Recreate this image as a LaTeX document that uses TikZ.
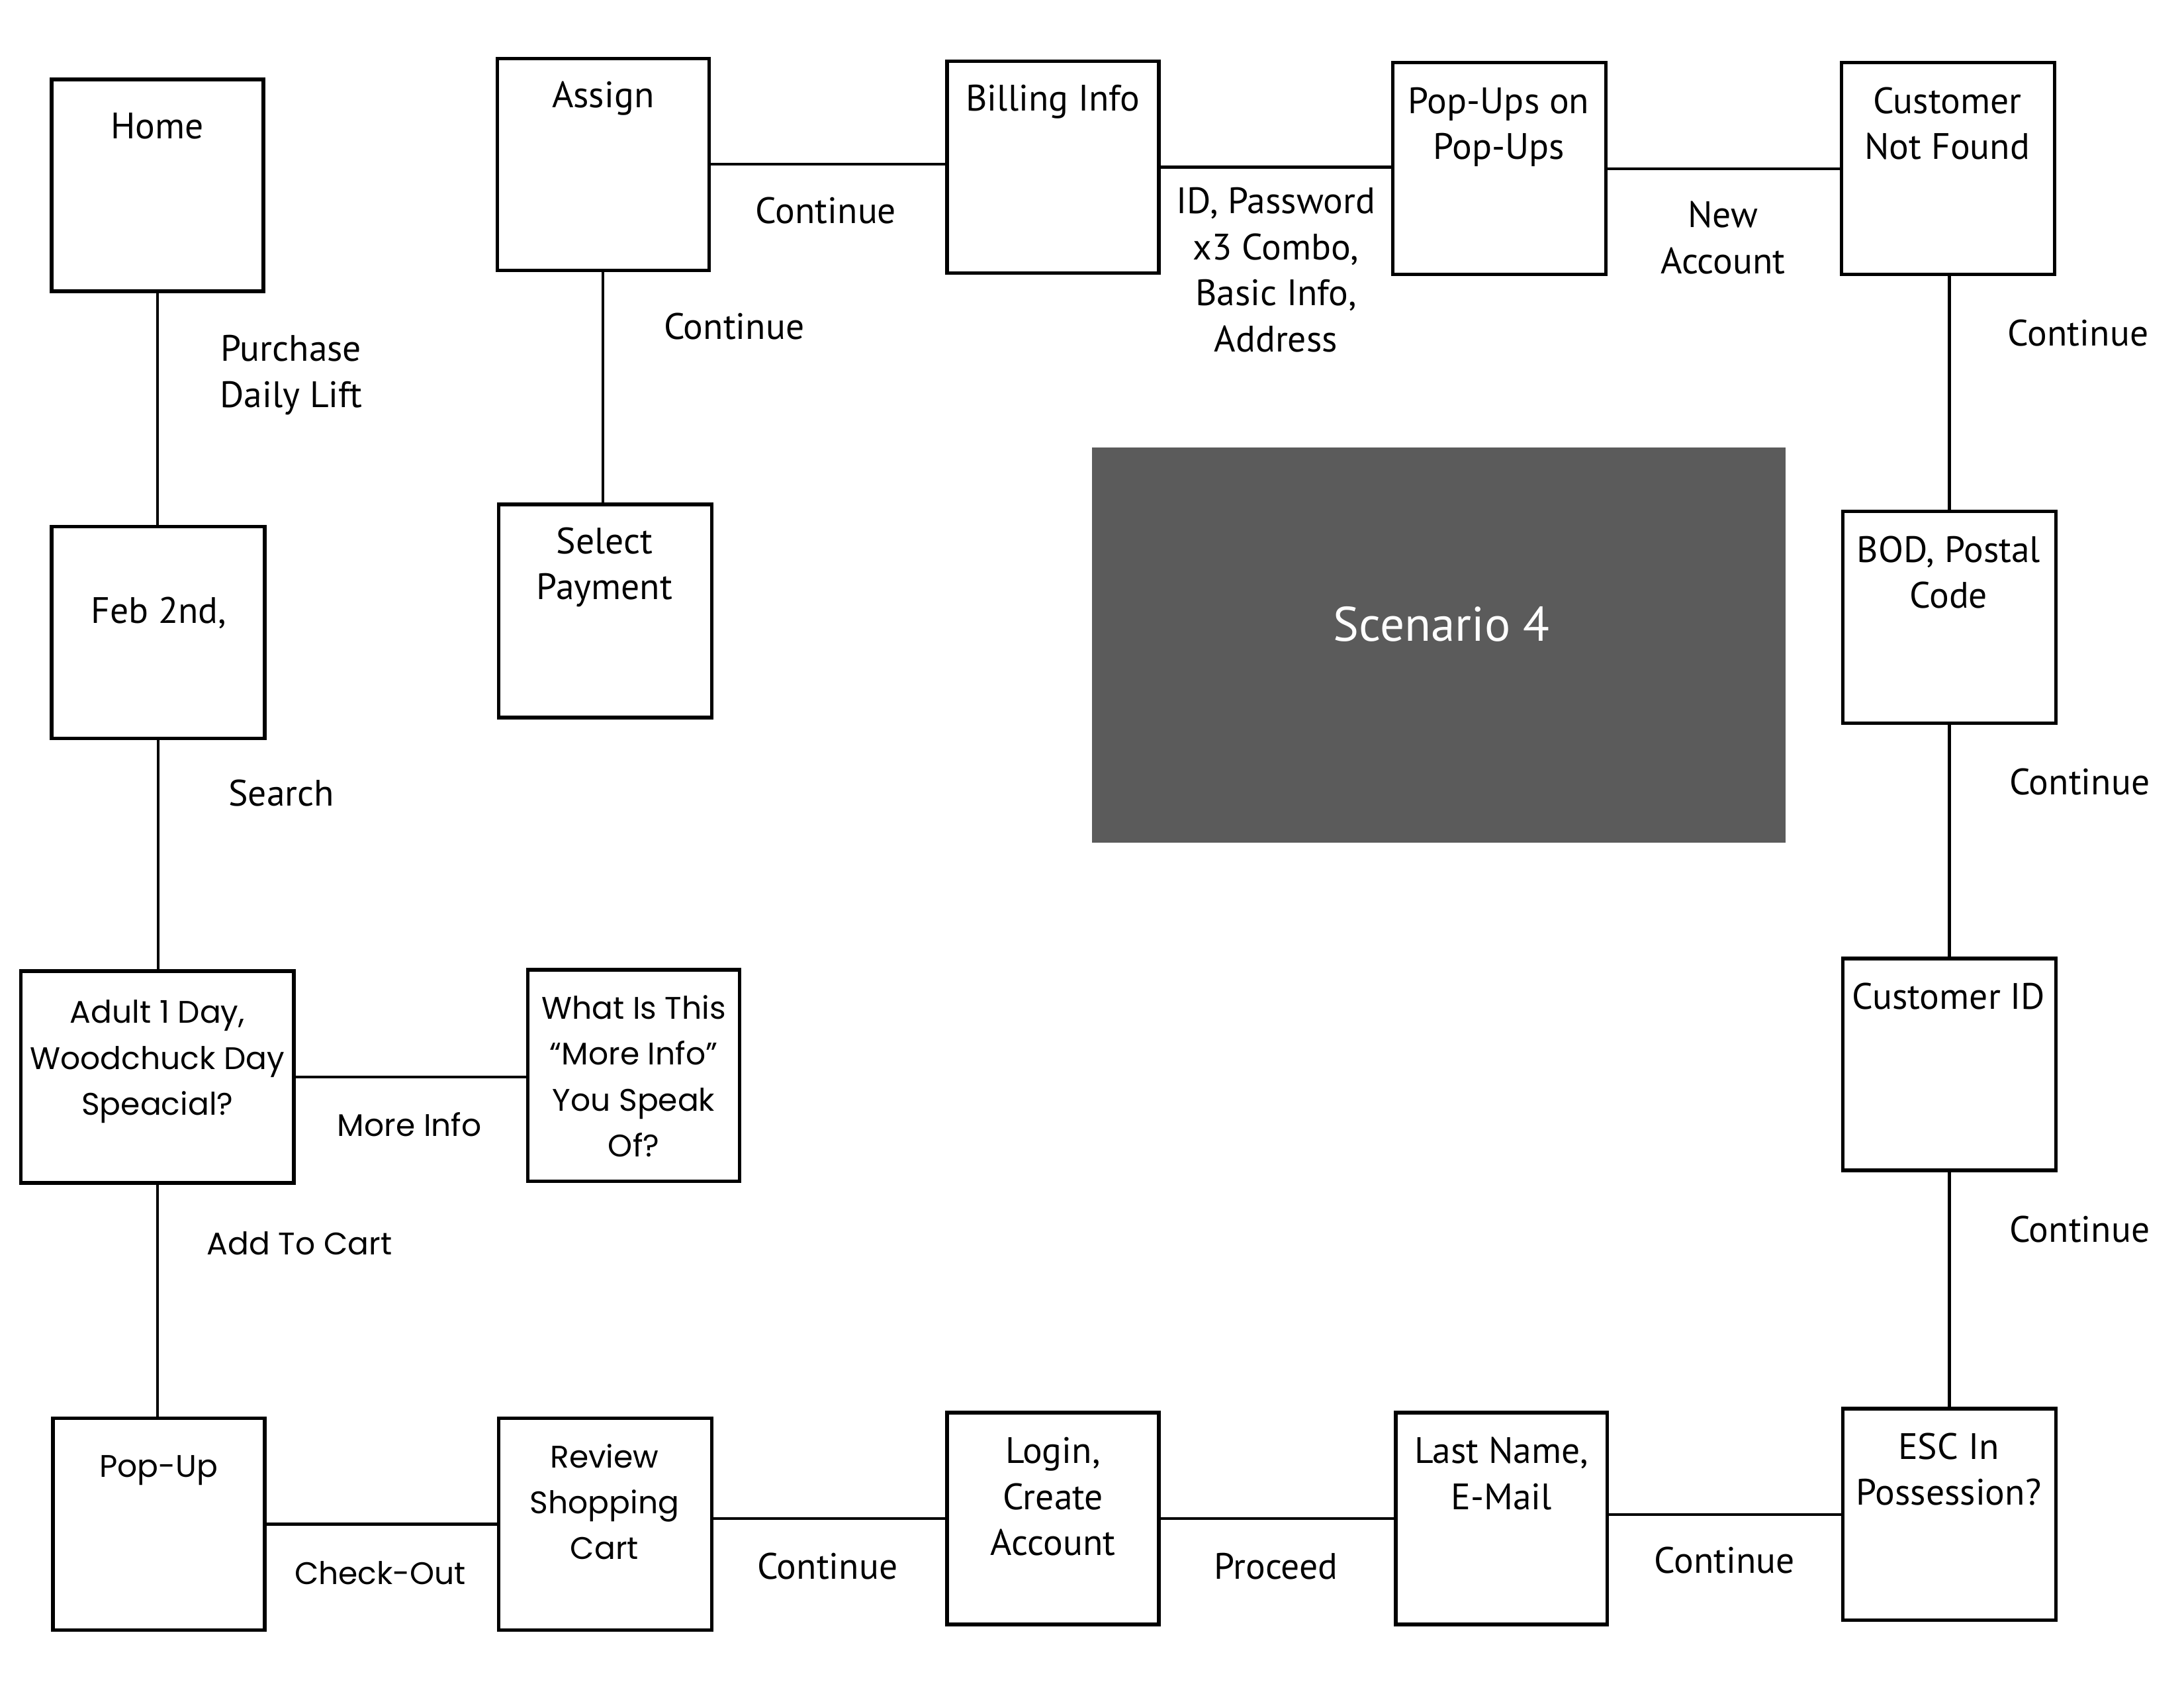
\documentclass[tikz,border=0pt]{standalone}
\usepackage{fontspec}
\setmainfont{PT Sans}
\newfontfamily\geofont{Poppins}
\definecolor{gray5b}{HTML}{5B5B5B}
\begin{document}
\begin{tikzpicture}[x=0.5pt,y=-0.5pt,
  box/.style={draw, line width=1.3pt, minimum width=76pt, minimum height=76pt, inner sep=0pt, outer sep=0pt},
  link/.style={line width=1pt},
  myr/.style={font=\fontsize{13.2}{16.5}\selectfont, align=center, inner sep=0pt, anchor=north, yshift=11.55pt},
  geo/.style={font=\geofont\fontsize{11.2}{16.5}\selectfont, align=center, inner sep=0pt, anchor=north, yshift=11.55pt}]
\useasboundingbox (0,0) rectangle (1568,1211.6);

% boxes
\node[box] (home) at (113,133) {};
\node[box, minimum width=76.5pt] (feb) at (113.5,454) {};
\node[box, minimum width=98pt] (adult) at (113,773) {};
\node[box] (what) at (455,772) {};
\node[box] (popup) at (114,1094) {};
\node[box, minimum width=76.5pt] (review) at (434.5,1094) {};
\node[box] (login) at (756,1090) {};
\node[box] (last) at (1078,1090) {};
\node[box, minimum width=76.5pt] (esc) at (1399.5,1087) {};
\node[box, minimum width=76.5pt] (custid) at (1399.5,764) {};
\node[box, minimum width=76.5pt] (bod) at (1399.5,443) {};
\node[box, minimum width=76.5pt] (cnf) at (1398.5,121) {};
\node[box, minimum width=76.5pt] (popups) at (1076.5,121) {};
\node[box] (billing) at (756,120) {};
\node[box] (assign) at (433,118) {};
\node[box, minimum width=76.5pt, minimum height=76.5pt] (select) at (434.5,438.5) {};
\node[fill=gray5b, minimum width=249pt, minimum height=142pt, inner sep=0pt] (scen) at (1033,463) {};
\node[font=\fontsize{17.4}{20}\selectfont, text=white, anchor=base, inner sep=0pt] (scentxt) at (1035,460) {Scenario 4};

% connectors
\draw[link] (home.south) -- (home.south |- feb.north);
\draw[link] (feb.south) -- (feb.south |- adult.north);
\draw[link] (adult.south) -- (adult.south |- popup.north);
\draw[link] (adult.east) -- (adult.east -| what.west);
\draw[link] (popup.east) -- (popup.east -| review.west);
\draw[link] (review.east |- login.west) -- (login.west);
\draw[link] (login.east) -- (login.east -| last.west);
\draw[link] (last.east |- esc.west) -- (esc.west);
\draw[link] (esc.north) -- (esc.north |- custid.south);
\draw[link] (custid.north) -- (custid.north |- bod.south);
\draw[link] (bod.north) -- (bod.north |- cnf.south);
\draw[link] (cnf.west) -- (cnf.west -| popups.east);
\draw[link] (popups.west |- billing.east) -- (billing.east);
\draw[link] (assign.east) -- (assign.east -| billing.west);
\draw[link] (assign.south) -- (assign.south |- select.north);

% texts
\node[myr] (t-home) at (113,99) {\strut Home};
\node[myr] (t-purchase) at (209,259) {\strut Purchase\\Daily Lift};
\node[myr] (t-feb) at (114,447) {\strut Feb 2nd,};
\node[myr] (t-search) at (202,578) {\strut Search};
\node[geo] (t-adult) at (113,734) {\strut Adult 1 Day,\\Woodchuck Day\\Speacial?};
\node[geo] (t-moreinfo) at (294,815) {\strut More Info};
\node[geo] (t-what) at (455,731) {\strut What Is This\\“More Info”\\You Speak\\Of?};
\node[geo] (t-cart) at (215,900) {\strut Add To Cart};
\node[geo] (t-popup) at (114,1060) {\strut Pop-Up};
\node[geo] (t-checkout) at (273,1137) {\strut Check-Out};
\node[geo] (t-review) at (434,1053) {\strut Review\\Shopping\\Cart};
\node[myr] (t-cont1) at (594,1133) {\strut Continue};
\node[myr] (t-login) at (756,1050) {\strut Login,\\Create\\Account};
\node[myr] (t-proceed) at (916,1133) {\strut Proceed};
\node[myr] (t-last) at (1078,1050) {\strut Last Name,\\E-Mail};
\node[myr] (t-cont2) at (1238,1129) {\strut Continue};
\node[myr] (t-esc) at (1399,1047) {\strut ESC In\\Possession?};
\node[myr] (t-cont3) at (1493,891) {\strut Continue};
\node[myr] (t-custid) at (1399,724) {\strut Customer ID};
\node[myr] (t-cont4) at (1493,570) {\strut Continue};
\node[myr] (t-bod) at (1399,403) {\strut BOD, Postal\\Code};
\node[myr] (t-cont5) at (1492,248) {\strut Continue};
\node[myr] (t-cnf) at (1398,81) {\strut Customer\\Not Found};
\node[myr] (t-new) at (1237,163) {\strut New\\Account};
\node[myr] (t-popups) at (1076,81) {\strut Pop-Ups on\\Pop-Ups};
\node[myr] (t-id) at (916,153) {\strut ID, Password\\x3 Combo,\\Basic Info,\\Address};
\node[myr] (t-billing) at (756,79) {\strut Billing Info};
\node[myr] (t-cont6) at (593,160) {\strut Continue};
\node[myr] (t-assign) at (433,77) {\strut Assign};
\node[myr] (t-cont7) at (527,243) {\strut Continue};
\node[myr] (t-select) at (434,397) {\strut Select\\Payment};
\end{tikzpicture}
\end{document}
